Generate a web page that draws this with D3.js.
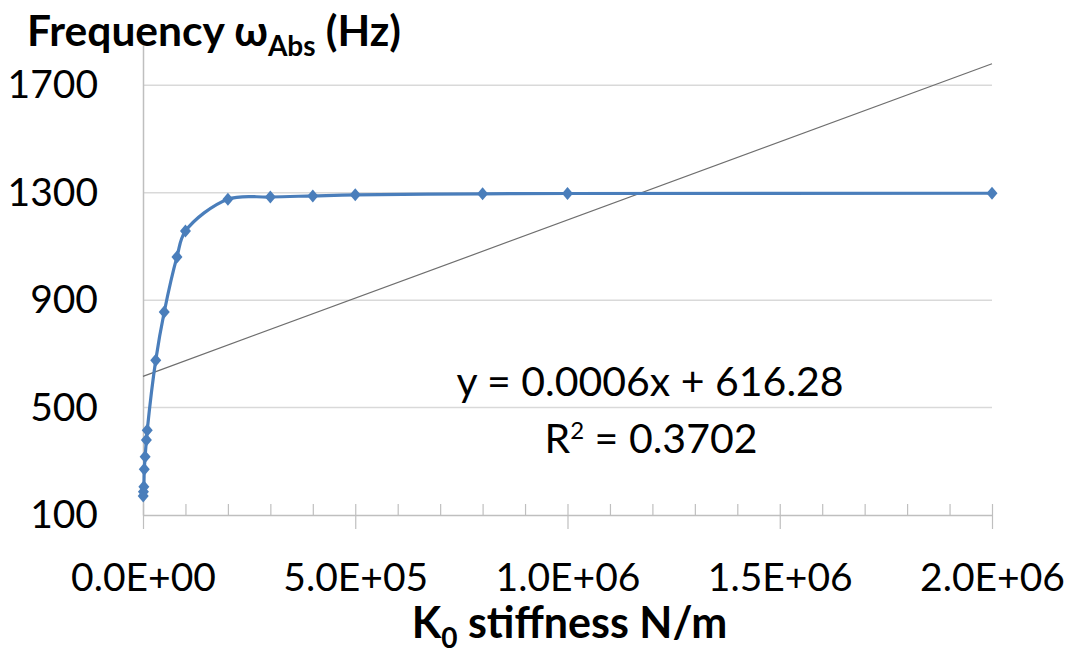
<!DOCTYPE html>
<html>
<head>
<meta charset="utf-8">
<script src="https://cdn.jsdelivr.net/npm/d3@7"></script>
<style>
  html, body { margin: 0; padding: 0; background: #fff; }
  svg { display: block; font-family: Lato, "Open Sans", "DejaVu Sans", sans-serif; }
</style>
</head>
<body>
<svg id="chart" width="1078" height="655"></svg>
<script>
// Absorber frequency versus foundation stiffness K0
const stiffness = [500, 1000, 2000, 3000, 5000, 8000, 10000, 30000, 50000, 80000, 100000,
                   200000, 300000, 400000, 500000, 800000, 1000000, 2000000];
const frequency = [171, 187, 205, 270, 317, 379, 416, 676, 856, 1061, 1157,
                   1276, 1284, 1288, 1292, 1296, 1297, 1298];

// Linear trendline coefficients and fit quality
const trendSlope = 0.000582;
const trendIntercept = 616.28;
const trendR2 = 0.3702;

const xTickValues = [0, 500000, 1000000, 1500000, 2000000];
const xTickLabels = ["0.0E+00", "5.0E+05", "1.0E+06", "1.5E+06", "2.0E+06"];
const xMinorStep = 100000;
const yTickValues = [100, 500, 900, 1300, 1700];
const yTickLabels = ["100", "500", "900", "1300", "1700"];

const svg = d3.select("#chart");
const plotLeft = 143, plotRight = 992, plotTop = 45, plotBottom = 515;

const x = d3.scaleLinear().domain([0, 2000000]).range([plotLeft, plotRight]);
const y = d3.scaleLinear().domain([100, 1850]).range([plotBottom, plotTop]);

const blue = "#4a7ebb";
const tickFont = 39;

// horizontal gridlines
svg.append("g")
  .selectAll("line")
  .data(yTickValues.filter(v => v > 100))
  .join("line")
  .attr("x1", plotLeft).attr("x2", plotRight)
  .attr("y1", d => y(d)).attr("y2", d => y(d))
  .attr("stroke", "#d9d9d9").attr("stroke-width", 1.5);

// minor ticks on the x axis (inside the plot)
const minorVals = d3.range(0, 2000001, xMinorStep).filter(v => !xTickValues.includes(v));
svg.append("g")
  .attr("transform", `translate(0,${plotBottom})`)
  .call(d3.axisBottom(x).tickValues(minorVals).tickSize(-11).tickFormat(""))
  .call(g => g.select(".domain").remove())
  .call(g => g.selectAll("line").attr("stroke", "#bfbfbf").attr("stroke-width", 1.2));

// x axis with crossing major ticks
const xAxis = svg.append("g")
  .attr("transform", `translate(0,${plotBottom})`)
  .call(d3.axisBottom(x).tickValues(xTickValues).tickSizeOuter(0).tickSizeInner(14).tickPadding(34)
        .tickFormat((d, i) => xTickLabels[i]));
xAxis.select(".domain").attr("stroke", "#bfbfbf").attr("stroke-width", 1.5);
xAxis.selectAll(".tick line").attr("y1", -11).attr("stroke", "#bfbfbf").attr("stroke-width", 1.2);
xAxis.selectAll(".tick text")
  .attr("font-size", tickFont).attr("fill", "#000")
  .attr("font-family", "Lato, 'Open Sans', sans-serif");

// y axis
const yAxis = svg.append("g")
  .attr("transform", `translate(${plotLeft},0)`)
  .call(d3.axisLeft(y).tickValues(yTickValues).tickSize(0).tickPadding(45)
        .tickFormat((d, i) => yTickLabels[i]));
yAxis.select(".domain").attr("stroke", "#bfbfbf").attr("stroke-width", 1.5);
yAxis.selectAll(".tick text")
  .attr("font-size", tickFont).attr("fill", "#000")
  .attr("font-family", "Lato, 'Open Sans', sans-serif");

// linear trendline across the full x range
const xDom = x.domain();
svg.append("line")
  .attr("x1", x(xDom[0])).attr("y1", y(trendIntercept + trendSlope * xDom[0]))
  .attr("x2", x(xDom[1])).attr("y2", y(trendIntercept + trendSlope * xDom[1]))
  .attr("stroke", "#6e6e6e").attr("stroke-width", 1.2);

// data series: smoothed line with diamond markers
const pts = stiffness.map((k, i) => [k, frequency[i]]);
svg.append("path")
  .datum(pts)
  .attr("fill", "none")
  .attr("stroke", blue)
  .attr("stroke-width", 3.2)
  .attr("stroke-linejoin", "round")
  .attr("d", d3.line().x(d => x(d[0])).y(d => y(d[1])).curve(d3.curveCatmullRom.alpha(0.5)));

svg.append("g")
  .selectAll("path")
  .data(pts)
  .join("path")
  .attr("transform", d => `translate(${x(d[0])},${y(d[1])})`)
  .attr("d", "M0,-6.5L5.5,0L0,6.5L-5.5,0Z")
  .attr("fill", blue);

// trendline equation and R²
const fmt4 = d3.format(".4f");
const eq = svg.append("g").attr("font-size", 41).attr("fill", "#000").attr("text-anchor", "middle");
eq.append("text").attr("x", 650).attr("y", 396)
  .text(`y = ${fmt4(trendSlope)}x + ${d3.format(".2f")(trendIntercept)}`);
const r2 = eq.append("text").attr("x", 651).attr("y", 453);
r2.append("tspan").text("R");
r2.append("tspan").attr("dy", -14).attr("font-size", 24).text("2");
r2.append("tspan").attr("dy", 14).text(` = ${fmt4(trendR2)}`);

// y-axis title
const yt = svg.append("text").attr("x", 27).attr("y", 46)
  .attr("font-size", 42.5).attr("font-weight", "bold").attr("fill", "#000");
yt.append("tspan").text("Frequency ω");
yt.append("tspan").attr("dy", 10).attr("font-size", 28).text("Abs");
yt.append("tspan").attr("dy", -10).text(" (Hz)");

// x-axis title
const xt = svg.append("text").attr("x", (plotLeft + plotRight) / 2 + 2).attr("y", 638)
  .attr("text-anchor", "middle")
  .attr("font-size", 43).attr("font-weight", "bold").attr("fill", "#000");
xt.append("tspan").text("K");
xt.append("tspan").attr("dy", 10).attr("font-size", 28).text("0");
xt.append("tspan").attr("dy", -10).text(" stiffness N/m");
</script>
</body>
</html>
